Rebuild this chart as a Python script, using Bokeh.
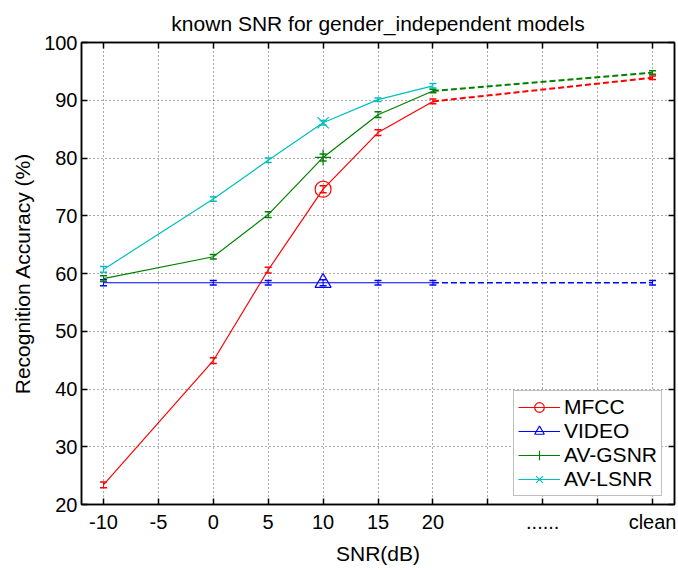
from bokeh.plotting import figure
from bokeh.models import (Range1d, FixedTicker, LinearAxis, CustomJSTickFormatter, Whisker,
                          TeeHead, ColumnDataSource, Legend, LegendItem, Title)
from bokeh.embed import file_html
from bokeh.resources import INLINE

# ---------------- data ----------------
snr_ticks = [-10, -5, 0, 5, 10, 15, 20, 25, 30, 35, 40]
snr_tick_labels = ["-10", "-5", "0", "5", "10", "15", "20", "", "......", "", "clean"]
acc_ticks = [20, 30, 40, 50, 60, 70, 80, 90, 100]

# "clean" condition is drawn at x = 40
snr_mfcc = [-10, 0, 5, 10, 15, 20, 40]
mfcc = [23.4, 44.9, 60.6, 74.6, 84.4, 89.8, 93.9]
mfcc_err = [0.5, 0.5, 0.5, 0.6, 0.5, 0.4, 0.3]

snr_video = [-10, 0, 5, 10, 15, 20, 40]
video = [58.4, 58.4, 58.4, 58.4, 58.4, 58.4, 58.4]
video_err = [0.5, 0.4, 0.4, 0.5, 0.4, 0.4, 0.4]

snr_gsnr = [-10, 0, 5, 10, 15, 20, 40]
gsnr = [59.1, 62.9, 70.2, 80.1, 87.5, 91.6, 94.8]
gsnr_err = [0.5, 0.4, 0.5, 0.6, 0.5, 0.3, 0.3]

snr_lsnr = [-10, 0, 5, 10, 15, 20]
lsnr = [60.7, 72.9, 79.6, 86.1, 90.1, 92.5]
lsnr_err = [0.5, 0.4, 0.4, 0.4, 0.3, 0.4]

series = [
    ("MFCC", snr_mfcc, mfcc, mfcc_err, "#FF0000", "circle"),
    ("VIDEO", snr_video, video, video_err, "#0000FF", "triangle"),
    ("AV-GSNR", snr_gsnr, gsnr, gsnr_err, "#008000", "cross"),
    ("AV-LSNR", snr_lsnr, lsnr, lsnr_err, "#00BFBF", "x"),
]
MARK_AT = 10
LAST_SNR = 20

FONT = "Liberation Sans"

p = figure(width=678, height=570, x_range=Range1d(-12, 42), y_range=Range1d(20, 100),
           output_backend="svg", toolbar_location=None,
           min_border_left=81, min_border_right=4, min_border_top=42, min_border_bottom=66)
p.outline_line_color = "black"
p.outline_line_width = 1.5
p.background_fill_color = "white"
p.border_fill_color = "white"

# main axes
xa = p.xaxis[0]
xa.ticker = FixedTicker(ticks=snr_ticks)
xa.major_label_overrides = {t: l for t, l in zip(snr_ticks, snr_tick_labels)}
ya = p.yaxis[0]
ya.ticker = FixedTicker(ticks=acc_ticks)
for ax in (xa, ya):
    ax.major_tick_in = 6
    ax.major_tick_out = 0
    ax.minor_tick_line_color = None
    ax.major_label_text_font = FONT
    ax.major_label_text_font_size = "20px"
    ax.major_label_text_color = "black"
    ax.axis_label_text_font = FONT
    ax.axis_label_text_font_size = "21px"
    ax.axis_label_text_font_style = "normal"
    ax.axis_label_text_color = "black"
    ax.axis_line_color = "black"
    ax.axis_line_width = 1.5
    ax.major_tick_line_color = "black"
    ax.major_tick_line_width = 1.5
xa.axis_label = "SNR(dB)"
xa.major_label_standoff = 6
xa.axis_label_standoff = 6
ya.axis_label = "Recognition Accuracy (%)"
ya.major_label_standoff = 4
ya.axis_label_standoff = 7

# box axes (ticks only)
ax_top = LinearAxis(ticker=FixedTicker(ticks=snr_ticks),
                    formatter=CustomJSTickFormatter(code="return ''"),
                    major_tick_in=6, major_tick_out=0, minor_tick_line_color=None,
                    major_tick_line_width=1.5, axis_line_width=1.5,
                    major_label_text_font_size="1px", major_label_standoff=0)
ax_right = LinearAxis(ticker=FixedTicker(ticks=acc_ticks),
                      formatter=CustomJSTickFormatter(code="return ''"),
                      major_tick_in=6, major_tick_out=0, minor_tick_line_color=None,
                      major_tick_line_width=1.5, axis_line_width=1.5,
                      major_label_text_font_size="1px", major_label_standoff=0)
p.add_layout(ax_top, "above")
p.add_layout(ax_right, "right")
p.add_layout(Title(text="known SNR for gender_independent models", text_font=FONT,
                   text_font_size="21px", text_font_style="normal", align="center",
                   text_color="black", standoff=16), "above")

# grid
p.xgrid.ticker = FixedTicker(ticks=snr_ticks)
p.ygrid.ticker = FixedTicker(ticks=acc_ticks)
for g in (p.xgrid, p.ygrid):
    g.grid_line_color = "#555555"
    g.grid_line_dash = "1 3"
    g.grid_line_width = 1

items = []
for name, xs, ys, errs, color, marker in series:
    solid_x = [x for x in xs if x <= LAST_SNR]
    solid_y = [y for x, y in zip(xs, ys) if x <= LAST_SNR]
    line_r = p.line(solid_x, solid_y, line_color=color, line_width=1.2)
    dash_x = [x for x in xs if x >= LAST_SNR]
    dash_y = [y for x, y in zip(xs, ys) if x >= LAST_SNR]
    if len(dash_x) > 1:
        p.line(dash_x, dash_y, line_color=color,
               line_width=1.3 if name == "VIDEO" else 2, line_dash="6 3")
    src = ColumnDataSource(dict(x=xs, upper=[y + e for y, e in zip(ys, errs)],
                                lower=[y - e for y, e in zip(ys, errs)]))
    p.add_layout(Whisker(base="x", upper="upper", lower="lower", source=src,
                         dimension="height", line_color=color, line_width=1,
                         upper_head=TeeHead(size=7, line_color=color, line_width=1.5),
                         lower_head=TeeHead(size=7, line_color=color, line_width=1.5)))
    i = xs.index(MARK_AT)
    mk = p.scatter([xs[i]], [ys[i]], marker=marker, size=16, fill_color=None,
                   line_color=color, line_width=1.2)
    items.append(LegendItem(label=name, renderers=[line_r, mk]))

legend = Legend(items=items, location=(432, 8), padding=4, spacing=0,
                glyph_width=42, glyph_height=24, label_height=24, label_standoff=4,
                label_text_font=FONT, label_text_font_size="21px", label_text_color="black",
                border_line_color="#808080", border_line_width=1,
                background_fill_color="white", background_fill_alpha=1)
p.add_layout(legend)

open("out.html", "w").write(file_html(p, INLINE))
